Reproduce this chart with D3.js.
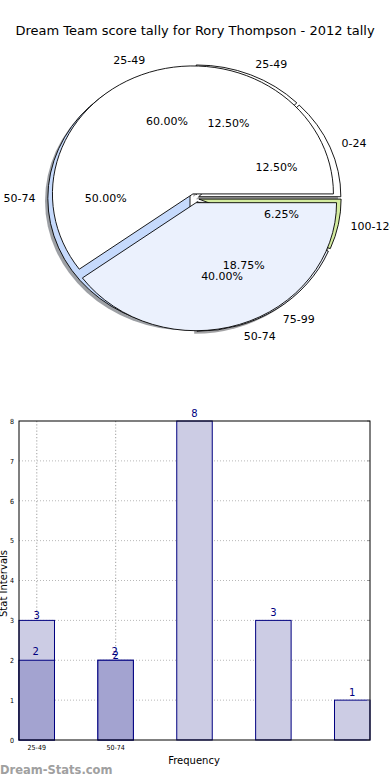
<!DOCTYPE html>
<html><head><meta charset="utf-8">
<script src="https://cdn.jsdelivr.net/npm/d3@7"></script>
<style>
body{margin:0;background:#fff;}
svg{display:block;font-family:"DejaVu Sans",sans-serif;}
</style></head>
<body><svg id="c" width="390" height="780"></svg>
<script>
// ---- data ----
const title = "Dream Team score tally for Rory Thompson - 2012 tally";
const pieALabels = ["25-49", "50-74"];
const pieAValues = [3, 2];
const pieAColors = ["#ffffff", "#ebf1fd"];
const pieBLabels = ["0-24", "25-49", "50-74", "75-99", "100-124"];
const pieBValues = [2, 2, 8, 3, 1];
const pieBColors = ["#ffffff", "#ffffff", "#c6dafc", "#ebf1fd", "#d4eca0"];

const barCategories = ["25-49", "50-74", "", "", ""];
const barLight = [3, 2, 8, 3, 1];
const barDark = [2, 2];
const yTicks = [0, 1, 2, 3, 4, 5, 6, 7, 8];

const svg = d3.select("#c");

svg.append("text").attr("x", 195).attr("y", 35).attr("text-anchor", "middle")
  .attr("font-size", 13).attr("fill", "#000").text(title);

// ---- pies ----
const cx = 194.5, cy = 198.3, rx = 140.5, ry = 128;
const pie = d3.pie().sort(null).value(d => d).startAngle(Math.PI / 2).endAngle(Math.PI / 2 - 2 * Math.PI);
const arc = d3.arc().innerRadius(0);

function drawPie(values, labels, colors, shadow, radius, explode) {
  const total = d3.sum(values);
  const arcs = pie(values);
  arc.outerRadius(radius);
  const g = svg.append("g");
  arcs.forEach((a, i) => {
    const m = (a.startAngle + a.endAngle) / 2;
    a.ox = Math.sin(m) * explode;
    a.oy = -Math.cos(m) * explode;
    a.m = m;
  });
  if (shadow) {
    arcs.forEach((a, i) => {
      const c = d3.rgb(colors[i]);
      g.append("path")
        .attr("d", arc(a))
        .attr("transform", `translate(${cx - 2.8},${cy + 2.6}) scale(${rx},${ry}) translate(${a.ox},${a.oy})`)
        .attr("fill", d3.rgb(c.r * 0.3, c.g * 0.3, c.b * 0.3))
        .attr("fill-opacity", 0.5);
    });
  }
  arcs.forEach((a, i) => {
    g.append("path")
      .attr("d", arc(a))
      .attr("transform", `translate(${cx},${cy}) scale(${rx},${ry}) translate(${a.ox},${a.oy})`)
      .attr("fill", colors[i])
      .attr("stroke", "#000")
      .attr("stroke-width", 0.9)
      .attr("stroke-linejoin", "round")
      .attr("vector-effect", "non-scaling-stroke");
  });
  return arcs.map((a, i) => ({a, r: radius, label: labels[i], pct: (values[i] / total * 100).toFixed(2) + "%"}));
}

const lb = drawPie(pieBValues, pieBLabels, pieBColors, true, 1.012, 0.032);
const la = drawPie(pieAValues, pieALabels, pieAColors, false, 1, 0.036);

const lg = svg.append("g").attr("font-size", 11).attr("fill", "#000");
[...lb, ...la].forEach(d => {
  const a = d.a;
  const lx = cx + rx * (a.ox + 1.1 * Math.sin(a.m));
  const ly = cy + ry * (a.oy - 1.1 * Math.cos(a.m));
  lg.append("text").attr("x", lx).attr("y", ly).attr("dy", "0.35em")
    .attr("text-anchor", Math.sin(a.m) > 0 ? "start" : "end").text(d.label);
  const px = cx + rx * (a.ox + 0.6 * Math.sin(a.m));
  const py = cy + ry * (a.oy - 0.6 * Math.cos(a.m));
  lg.append("text").attr("x", px).attr("y", py).attr("dy", "0.35em")
    .attr("text-anchor", "middle").text(d.pct);
});

// ---- bar chart ----
const L = 19, R = 370, T = 421, B = 740;
const bw = 0.45;
const x = d3.scaleLinear().domain([0, barLight.length - 1 + bw]).range([L, R]);
const y = d3.scaleLinear().domain([0, 8]).range([B, T]);

const bg = svg.append("g");
// grid
bg.selectAll(".hg").data(yTicks.filter(t => t > 0 && t < 8)).join("line")
  .attr("x1", L).attr("x2", R).attr("y1", d => y(d)).attr("y2", d => y(d))
  .attr("stroke", "#b8b8b8").attr("stroke-width", 1).attr("stroke-dasharray", "1,2");
const xt = barCategories.map((c, i) => ({c, i})).filter(d => d.c);
bg.selectAll(".vg").data(xt).join("line")
  .attr("x1", d => x(d.i + bw / 2)).attr("x2", d => x(d.i + bw / 2)).attr("y1", T).attr("y2", B)
  .attr("stroke", "#b0b0b0").attr("stroke-width", 1.2).attr("stroke-dasharray", "1.2,2");

// light bars
bg.selectAll(".lb").data(barLight).join("rect")
  .attr("x", (d, i) => x(i)).attr("width", (d, i) => x(i + bw) - x(i))
  .attr("y", d => y(d)).attr("height", d => y(0) - y(d))
  .attr("fill", "#ccccE4").attr("stroke", "#000080").attr("stroke-width", 1);
bg.selectAll(".db").data(barDark).join("rect")
  .attr("x", (d, i) => x(i)).attr("width", (d, i) => x(i + bw) - x(i))
  .attr("y", d => y(d)).attr("height", d => y(0) - y(d))
  .attr("fill", "#a3a3d0").attr("stroke", "#000080").attr("stroke-width", 1);

// value labels
bg.selectAll(".lt").data(barLight).join("text")
  .attr("x", (d, i) => x(i + bw / 2)).attr("y", (d, i) => y(d) - (i < 2 ? 1 : 4))
  .attr("text-anchor", "middle").attr("font-size", 10).attr("fill", "#000080").text(d => d);
bg.selectAll(".dt").data(barDark).join("text")
  .attr("x", (d, i) => x(i + bw / 2) - 1).attr("y", d => y(d) - 5)
  .attr("text-anchor", "middle").attr("font-size", 10).attr("fill", "#000080").text(d => d);

// right-side small ticks
bg.selectAll(".rt").data(yTicks).join("line")
  .attr("x1", R - 3).attr("x2", R).attr("y1", d => y(d)).attr("y2", d => y(d))
  .attr("stroke", "#999").attr("stroke-width", 1);

// frame
bg.append("rect").attr("x", L).attr("y", T).attr("width", R - L).attr("height", B - T)
  .attr("fill", "none").attr("stroke", "#000").attr("stroke-width", 1);

// y ticks
const yAxis = d3.axisLeft(y).tickValues(yTicks).tickSize(0).tickPadding(5).tickFormat(d3.format("d"));
const ya = svg.append("g").attr("transform", `translate(${L},0)`).call(yAxis);
ya.select(".domain").remove();
ya.selectAll("text").attr("font-size", 7).attr("font-family", "DejaVu Sans Condensed, DejaVu Sans").attr("fill", "#000");

// x ticks
const xa = svg.append("g");
xa.selectAll("text").data(xt).join("text")
  .attr("x", d => x(d.i + bw / 2)).attr("y", B + 10)
  .attr("text-anchor", "middle").attr("font-size", 7)
  .attr("font-family", "DejaVu Sans Condensed, DejaVu Sans").text(d => d.c);

svg.append("text").attr("x", 194).attr("y", 764).attr("text-anchor", "middle")
  .attr("font-size", 10).text("Frequency");
svg.append("text").attr("transform", `translate(7,${(T + B) / 2 + 3}) rotate(-90)`)
  .attr("text-anchor", "middle").attr("font-size", 10).text("Stat Intervals");
svg.append("text").attr("x", 0).attr("y", 774).attr("font-size", 11.5).attr("font-weight", "bold")
  .attr("fill", "#a0a0a0").text("Dream-Stats.com");
</script></body></html>
